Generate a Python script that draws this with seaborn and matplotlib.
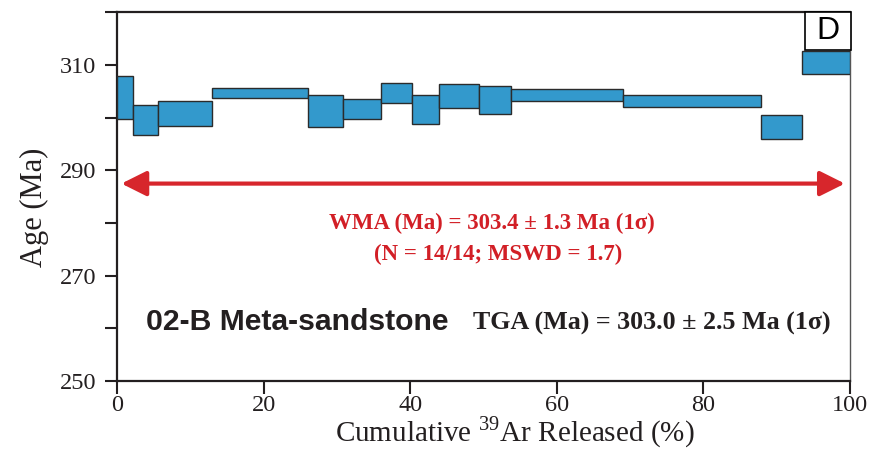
import numpy as np
import matplotlib
matplotlib.use("Agg")
import matplotlib.pyplot as plt
import matplotlib.patches as mpatches
import seaborn as sns

# cumulative 39Ar released (%) at step boundaries
cum_release = [0, 2.2, 5.6, 13.0, 26.0, 30.8, 36.0, 40.2, 43.9, 49.4, 53.8, 69.0, 87.8, 93.5, 100]
# step ages (Ma) and half box heights (Ma)
step_age = [303.85, 299.55, 300.75, 304.65, 301.3, 301.65, 304.8, 301.6, 304.15, 303.4, 304.25, 303.2, 298.25, 310.45]
step_err = [4.15, 2.85, 2.35, 0.95, 3.0, 1.85, 1.9, 2.7, 2.25, 2.7, 1.15, 1.1, 2.25, 2.15]

y_ticks = [250, 260, 270, 280, 290, 300, 310, 320]
y_labels = ["250", "", "270", "", "290", "", "310", ""]
x_ticks = [0, 20, 40, 60, 80, 100]

sns.set_style("ticks")
plt.rcParams["font.family"] = ["Liberation Serif", "DejaVu Serif"]
plt.rcParams["mathtext.fontset"] = "custom"
plt.rcParams["mathtext.rm"] = "Liberation Serif"

ink = "#231f20"

fig = plt.figure(figsize=(8.74, 4.51), dpi=100)
ax = fig.add_axes([0.1339, 0.1552, 0.8386, 0.8171])

left = np.array(cum_release[:-1])
width = np.diff(cum_release)
age = np.array(step_age)
err = np.array(step_err)

ax.bar(left, 2 * err, width=width, bottom=age - err, align="edge",
       color="#3399cc", edgecolor="#2b2b2b", linewidth=1.0, zorder=3)

# plateau arrow
ax.annotate("", xy=(0.6, 287.5), xytext=(99.3, 287.5),
            arrowprops=dict(arrowstyle="<|-|>", color="#d7262c", lw=3,
                            mutation_scale=38, shrinkA=0, shrinkB=0))

red = "#d21f26"
ax.text(51.2, 279.9, "WMA (Ma) = 303.4 ± 1.3 Ma (1σ)", color=red, fontsize=16.5,
        fontweight="bold", ha="center", va="center")
ax.text(52.0, 274.0, "(N = 14/14; MSWD = 1.7)", color=red, fontsize=16.5,
        fontweight="bold", ha="center", va="center")

ax.text(3.9, 261.2, "02-B Meta-sandstone", fontsize=21.7, fontweight="bold",
        family=["Liberation Sans", "DejaVu Sans"], color=ink, ha="left", va="center")
ax.text(97.3, 261.0, "TGA (Ma) = 303.0 ± 2.5 Ma (1σ)", fontsize=18.7,
        fontweight="bold", color=ink, ha="right", va="center")

# panel letter box
box = mpatches.Rectangle((0.9386, 0.8982), 0.0628, 0.1018, transform=ax.transAxes,
                         facecolor="white", edgecolor="black", linewidth=1.2,
                         zorder=5, clip_on=False)
ax.add_patch(box)
ax.text(0.9386 + 0.0314, 0.8982 + 0.0509, "D", transform=ax.transAxes,
        fontsize=23, family=["Liberation Sans", "DejaVu Sans"], color="black",
        ha="center", va="center", zorder=6)

ax.set_xlim(0, 100)
ax.set_ylim(250, 320)
ax.set_xticks(x_ticks)
ax.set_yticks(y_ticks)
ax.set_yticklabels(y_labels)
ax.tick_params(axis="both", direction="out", length=9, width=1.5,
               labelsize=17.5, colors=ink)
ax.tick_params(axis="x", pad=1)
ax.tick_params(axis="y", pad=6)
ax.tick_params(right=False, top=False)

for side in ["left", "bottom", "top"]:
    ax.spines[side].set_linewidth(1.6)
    ax.spines[side].set_color(ink)
ax.spines["right"].set_linewidth(1.0)
ax.spines["right"].set_color("#555555")

ax.set_ylabel("Age (Ma)", fontsize=22, color=ink, va="center")
ax.yaxis.set_label_coords(-0.112, 0.472)
ax.set_xlabel("Cumulative $^{39}$Ar Released (%)", fontsize=21, color=ink, va="center")
ax.xaxis.set_label_coords(0.543, -0.14)

fig.savefig("out.png", dpi=100)
